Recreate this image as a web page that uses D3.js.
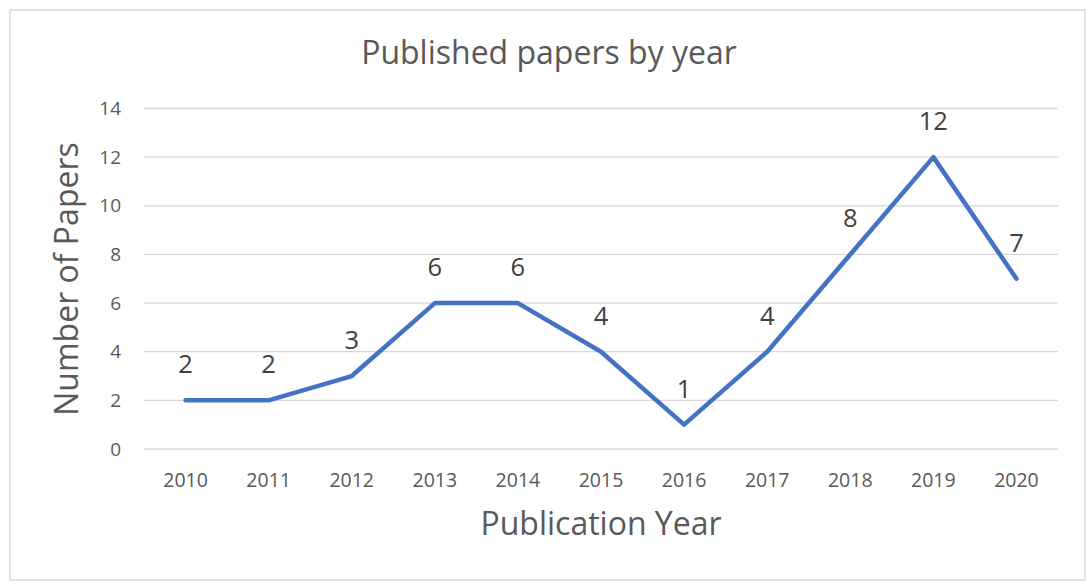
<!DOCTYPE html>
<html><head><meta charset="utf-8">
<script src="https://cdn.jsdelivr.net/npm/d3@7"></script>
<style>body{margin:0;background:#fff}svg{display:block}text{font-family:"Open Sans","Noto Sans",sans-serif;fill:#595959}</style>
</head><body><svg id="c" width="1088" height="585"></svg>
<script>
const years = ["2010","2011","2012","2013","2014","2015","2016","2017","2018","2019","2020"];
const papers = [2,2,3,6,6,4,1,4,8,12,7];
const yTicks = [0,2,4,6,8,10,12,14];

const svg = d3.select("#c");
svg.append("rect").attr("x",10).attr("y",10).attr("width",1075).attr("height",570).attr("fill","#fff").attr("stroke","#d9d9d9").attr("stroke-width",1.5);

const m={l:144,r:1058,t:108.5,b:449};
const x=d3.scaleBand().domain(years).range([m.l,m.r]);
const y=d3.scaleLinear().domain([0,14]).range([m.b,m.t]);

svg.append("g").selectAll("line").data(yTicks).join("line")
 .attr("x1",m.l).attr("x2",m.r).attr("y1",d=>y(d)).attr("y2",d=>y(d))
 .attr("stroke","#d9d9d9").attr("stroke-width",1.3);

svg.append("g").selectAll("text").data(yTicks).join("text")
 .attr("x",121).attr("y",d=>y(d)).attr("dy","0.35em").attr("text-anchor","end")
 .attr("font-size",19).text(d=>d);

svg.append("g").selectAll("text").data(years).join("text")
 .attr("x",d=>x(d)+x.bandwidth()/2).attr("y",480).attr("dy","0.35em").attr("text-anchor","middle")
 .attr("font-size",19.5).text(d=>d);

const pts=years.map((d,i)=>[x(d)+x.bandwidth()/2,y(papers[i])]);
svg.append("path").attr("d",d3.line()(pts)).attr("fill","none").attr("stroke","#4472C4")
 .attr("stroke-width",4.5).attr("stroke-linejoin","round").attr("stroke-linecap","round");

svg.append("g").selectAll("text").data(papers).join("text")
 .attr("x",(d,i)=>pts[i][0]).attr("y",(d,i)=>pts[i][1]-36).attr("dy","0.35em").attr("text-anchor","middle")
 .attr("font-size",25.5).style("fill","#404040").text(d=>d);

svg.append("text").attr("x",549).attr("y",53).attr("dy","0.35em").attr("text-anchor","middle")
 .attr("font-size",32).text("Published papers by year");
svg.append("text").attr("x",601).attr("y",524).attr("dy","0.35em").attr("text-anchor","middle")
 .attr("font-size",32).text("Publication Year");
svg.append("text").attr("transform","translate(67,279) rotate(-90)").attr("dy","0.35em").attr("text-anchor","middle")
 .attr("font-size",32).text("Number of Papers");
</script></body></html>
